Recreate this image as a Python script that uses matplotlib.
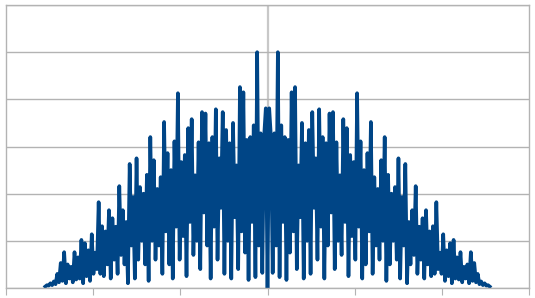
import numpy as np
import matplotlib
matplotlib.use("Agg")
import matplotlib.pyplot as plt

# values, left half, centre trough, right half
left_half = [0.03, 0.06, 0.05, 0.10, 0.06, 0.14, 0.08, 0.30, 0.12, 0.53, 0.15, 0.76,
             0.10, 0.50, 0.20, 0.45, 0.12, 0.76, 0.18, 0.65, 0.20, 1.02, 0.10, 0.95,
             0.25, 0.80, 0.15, 1.14, 0.30, 0.75, 0.40, 1.82, 0.30, 1.31, 0.25, 1.20,
             0.50, 1.65, 0.20, 1.48, 0.60, 1.30, 0.30, 2.16, 0.70, 1.65, 0.50, 1.40,
             0.10, 2.63, 0.90, 1.93, 0.20, 2.75, 0.60, 2.14, 1.00, 2.00, 0.50, 2.40,
             0.15, 3.20, 1.00, 2.71, 0.60, 2.10, 0.90, 2.35, 0.30, 3.52, 1.20, 2.86,
             0.50, 2.50, 0.20, 3.11, 1.30, 4.13, 0.60, 2.67, 1.10, 2.82, 0.25, 3.39,
             1.40, 3.58, 0.70, 2.39, 1.00, 3.09, 0.40, 3.73, 1.60, 3.70, 0.90, 3.07,
             0.20, 3.20, 1.30, 3.79, 0.60, 2.75, 1.70, 3.73, 0.30, 3.35, 1.00, 3.07,
             0.20, 3.50, 1.50, 2.60, 0.40, 4.26, 1.20, 4.15, 0.75, 3.14, 0.17, 3.20,
             1.40, 3.45, 0.23, 5.00, 0.90, 3.28, 0.32, 3.20, 3.81]
centre = [0.0]
right_half = [3.81, 3.20, 0.32, 3.28, 0.90, 5.00, 0.23, 3.45, 1.40, 3.20, 0.17, 3.14,
              0.75, 4.15, 1.20, 4.26, 0.40, 2.60, 1.50, 3.50, 0.20, 3.07, 1.00, 3.35,
              0.30, 3.73, 1.70, 2.75, 0.60, 3.79, 1.30, 3.20, 0.20, 3.07, 0.90, 3.70,
              1.60, 3.73, 0.40, 3.09, 1.00, 2.39, 0.70, 3.58, 1.40, 3.39, 0.25, 2.82,
              1.10, 2.67, 0.60, 4.13, 1.30, 3.11, 0.20, 2.50, 0.50, 2.86, 1.20, 3.52,
              0.30, 2.35, 0.90, 2.10, 0.60, 2.71, 1.00, 3.20, 0.15, 2.40, 0.50, 2.00,
              1.00, 2.14, 0.60, 2.75, 0.20, 1.93, 0.90, 2.63, 0.10, 1.40, 0.50, 1.65,
              0.70, 2.16, 0.30, 1.30, 0.60, 1.48, 0.20, 1.65, 0.50, 1.20, 0.25, 1.31,
              0.30, 1.82, 0.40, 0.75, 0.30, 1.14, 0.15, 0.80, 0.25, 0.95, 0.10, 1.02,
              0.20, 0.65, 0.18, 0.76, 0.12, 0.45, 0.20, 0.50, 0.10, 0.76, 0.15, 0.53,
              0.12, 0.30, 0.08, 0.14, 0.06, 0.10, 0.05, 0.06, 0.03]
x_start, x_end = -2.55, 2.55
x_ticks = [-3, -2, -1, 0, 1, 2, 3]
y_ticks = [0, 1, 2, 3, 4, 5, 6]

values = left_half + centre + right_half
x = np.linspace(x_start, x_end, len(values))

fig = plt.figure(figsize=(5.35, 2.98), dpi=100)
ax = fig.add_axes([6 / 535, 10 / 298, 523 / 535, 283 / 298])

grid_col = '#b3b3b3'
ax.set_xlim(x_ticks[0], x_ticks[-1])
ax.set_ylim(y_ticks[0], y_ticks[-1])
ax.set_yticks(y_ticks)
ax.set_xticks(x_ticks)
ax.yaxis.grid(True, color=grid_col, linewidth=1)
ax.set_axisbelow(True)
ax.axvline(0, color='#c8c8c8', linewidth=1.6, zorder=0.5)
for s in ax.spines.values():
    s.set_color(grid_col)
    s.set_linewidth(1)
ax.tick_params(axis='y', length=0, labelleft=False)
ax.tick_params(axis='x', direction='out', length=5, color=grid_col, labelbottom=False)

ax.plot(x, values, color='#004586', linewidth=2.6, solid_joinstyle='round')

fig.savefig('out.png', dpi=100)
